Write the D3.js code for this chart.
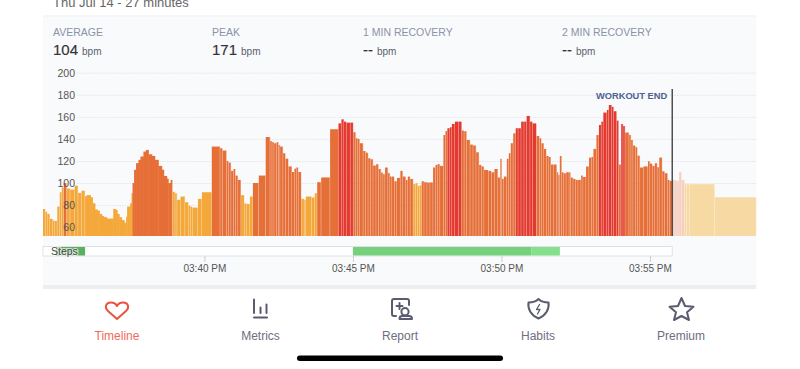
<!DOCTYPE html>
<html>
<head>
<meta charset="utf-8">
<script src="https://cdn.jsdelivr.net/npm/d3@7"></script>
<style>
  html, body { margin: 0; padding: 0; background: #fff; overflow: hidden; }
  text { font-family: "Liberation Sans", Arial, sans-serif; }
</style>
</head>
<body>
<div id="chart"></div>
<script>
// seconds after the first sample (15:34:34)
const barSeconds = [0,5,9,14,20,24,29,34,38,42,48,55,64,71,78,85,88,93,96,100,105,110,114,119,123,129,139,142,147,150,154,159,164,168,170,176,179,181,184,188,193,197,203,208,213,220,226,233,240,244,250,253,258,262,267,271,278,287,294,298,302,313,321,341,358,363,371,375,380,385,389,394,400,407,411,418,424,436,450,459,463,467,472,476,479,485,490,496,503,508,512,516,522,528,531,543,549,554,562,580,597,603,608,613,621,627,632,636,640,647,652,657,662,667,673,678,683,687,691,697,701,705,710,715,722,727,733,737,742,748,753,757,761,765,770,776,782,788,793,797,802,809,813,817,822,826,832,840,846,851,856,863,869,875,881,886,891,900,906,912,919,924,927,931,937,941,945,950,955,960,966,972,977,984,989,997,1003,1007,1012,1017,1022,1026,1032,1038,1041,1044,1048,1052,1057,1063,1066,1071,1076,1081,1087,1091,1097,1103,1108,1112,1118,1123,1128,1132,1139,1143,1149,1153,1159,1163,1168,1172,1176,1184,1188,1192,1197,1201,1206,1213,1222,1226,1231,1236,1241,1245,1251,1256,1262,1266,1271,1277,1281,1285,1290,1296,1300,1306,1357];
const barBpm = [76.5,74,72,67.5,66,65.6,78.6,91.6,96,100,95,94,97.6,91,93,88,89,89,87,81.6,76,75,72,70,69,67.7,67.7,76.5,75.6,72,69,66.5,64,69.5,78.6,81.6,90.7,100,112,118,121,124,128.5,130,126,124.5,121,115.5,112,106.4,104,100,102.8,92,90.7,84.7,87.7,82.5,79.5,78.6,77.7,85.6,91.6,133,131.5,129.4,120,118.5,111,112.7,106.7,102.8,89,81.6,81,87.7,100,106.7,141.7,138,137,136,137,134.5,133,127,122,115,110,113,114,110,85.6,84.7,87.7,86.8,90.7,100.7,105,148.7,154,157.7,155.6,154.7,154.7,146,140.5,140,136,129,127.5,122.4,121.5,115.8,117,112.7,109.4,108,114,109,105.8,105.8,101.6,104.6,111,105.8,102.8,105.8,103.7,99,99.8,97.3,98,101.6,100.7,100.4,100.5,114,116.4,117,115.5,143.5,147,149.6,150.5,153.5,155.6,155.6,147.5,146.9,139,134.8,134,127.8,116.4,115,111.8,111,109.7,112.7,104.9,122,103.7,105.8,122,127,136,145,149.6,149.6,155.6,155.6,160.8,155.6,154,142.6,140.5,136,130.9,124.5,123.6,116.7,116.7,109.7,107.3,124.5,109.7,108.8,109.7,109.7,104.9,103.7,102.8,102.8,106.7,105.5,114.9,123,123.6,130.9,143.5,152.6,155.6,163.8,166.2,170.7,169,165,156.5,116.7,153.5,151.7,145.7,143.5,139,133.9,132.4,124.8,114,115,119.7,117.6,115.5,117.9,114.3,123,110.6,108.8,102.8,101.9,102.8,102.3,101.9,109.7,102.8,98.9,98.9,98.9,87];
const endSecond = 1441;
const workoutEndSecond = 1271;
const solidSpan = [85, 255];

const yTicks = [200, 180, 160, 140, 120, 100, 80, 60];
const timeTicks = ["15:40", "15:45", "15:50", "15:55"];

const stepStart = [26, 626, 986];
const stepEnd = [85, 986, 1044];
const stepColors = ["#5bb060", "#76d07c", "#84e08c"];

const stats = [
  { label: "AVERAGE", value: "104", at: 53 },
  { label: "PEAK", value: "171", at: 212 },
  { label: "1 MIN RECOVERY", value: "--", at: 363 },
  { label: "2 MIN RECOVERY", value: "--", at: 562 }
];
const tabs = ["Timeline", "Metrics", "Report", "Habits", "Premium"];
const tabX = [117, 260.5, 400, 538, 681];

const width = 800;
const height = 369;
const panel = { left: 43, right: 756.4, top: 16, bottom: 285 };

const parseClock = d3.timeParse("%H:%M:%S");
const t0 = parseClock("15:34:34");
const toDate = s => d3.timeSecond.offset(t0, s);

const x = d3.scaleTime()
  .domain([t0, toDate(endSecond)])
  .range([panel.left, panel.right]);

const y = d3.scaleLinear()
  .domain([52, 200])
  .range([236, 72.7]);

const svg = d3.select("#chart").append("svg")
  .attr("width", width)
  .attr("height", height)
  .style("display", "block");

svg.append("text")
  .attr("x", 53).attr("y", 7)
  .style("font-size", "13px").style("fill", "#666")
  .text("Thu Jul 14 - 27 minutes");

svg.append("rect")
  .attr("x", panel.left).attr("y", panel.top)
  .attr("width", panel.right - panel.left).attr("height", panel.bottom - panel.top)
  .attr("fill", "#f9fafc");
svg.append("line")
  .attr("x1", panel.left).attr("x2", panel.right)
  .attr("y1", panel.top).attr("y2", panel.top)
  .attr("stroke", "#eeeff2");
svg.append("rect")
  .attr("x", panel.left).attr("y", panel.bottom)
  .attr("width", panel.right - panel.left).attr("height", 4)
  .attr("fill", "#eceef1");

// stats row
const statG = svg.selectAll(".stat").data(stats).enter().append("g").attr("class", "stat");
statG.append("text")
  .attr("x", d => d.at).attr("y", 36)
  .style("font-size", "10.5px").style("fill", "#8a93a8")
  .text(d => d.label);
const statValue = statG.append("text")
  .attr("x", d => d.at).attr("y", 55);
statValue.append("tspan")
  .style("font-size", "15px").style("fill", "#333")
  .style("stroke", "#333").style("stroke-width", "0.15px")
  .text(d => d.value);
statValue.append("tspan")
  .attr("dx", 4)
  .style("font-size", "10px").style("fill", "#5a5f6a")
  .text("bpm");

// grid sits under the bars
const grid = svg.append("g")
  .attr("transform", "translate(77,0)")
  .call(d3.axisLeft(y).tickValues(yTicks).tickSize(-(panel.right - 77)).tickFormat(""));
grid.select(".domain").remove();
grid.selectAll(".tick line")
  .attr("stroke", "#e4e6ea")
  .attr("stroke-dasharray", "1.5,1");

const zoneColor = v => v < 100 ? "#f5a83a" : v < 149 ? "#e66f37" : "#e4392f";
const fadedColor = v => v < 100 ? "#f7d9a4" : "#f6cfc0";

const bars = barSeconds.map((s, i) => ({
  s: s,
  next: i + 1 < barSeconds.length ? barSeconds[i + 1] : endSecond,
  bpm: barBpm[i]
}));
const barFill = d => d.s >= workoutEndSecond ? fadedColor(d.bpm) : zoneColor(d.bpm);

// pale full-width layer so the gaps between bars pick up the zone tint
svg.append("g").attr("opacity", 0.35).selectAll("rect")
  .data(bars)
  .enter()
  .append("rect")
  .attr("x", d => x(toDate(d.s)))
  .attr("y", d => y(d.bpm))
  .attr("width", d => x(toDate(d.next)) - x(toDate(d.s)))
  .attr("height", d => y.range()[0] - y(d.bpm))
  .attr("fill", barFill);

svg.append("g").selectAll("rect")
  .data(bars)
  .enter()
  .append("rect")
  .attr("x", d => x(toDate(d.s)))
  .attr("y", d => y(d.bpm))
  .attr("width", d => {
    const w = x(toDate(d.next)) - x(toDate(d.s));
    const solid = d.s >= solidSpan[0] && d.s < solidSpan[1];
    return solid ? w + 0.4 : Math.max(w - 0.5, 0.5);
  })
  .attr("height", d => y.range()[0] - y(d.bpm))
  .attr("fill", barFill);

// tick labels sit on top of the bars
const yAxis = svg.append("g")
  .attr("transform", "translate(77,0)")
  .call(d3.axisLeft(y).tickValues(yTicks).tickSize(0).tickPadding(2));
yAxis.select(".domain").remove();
yAxis.selectAll(".tick text")
  .style("font-size", "10.5px")
  .style("font-family", "'Liberation Sans', Arial, sans-serif")
  .style("fill", "#555");

// workout end marker
svg.append("line")
  .attr("x1", x(toDate(workoutEndSecond))).attr("x2", x(toDate(workoutEndSecond)))
  .attr("y1", 89).attr("y2", 236)
  .attr("stroke", "#444").attr("stroke-width", 1.4);
svg.append("text")
  .attr("x", x(toDate(workoutEndSecond)) - 5).attr("y", 99)
  .attr("text-anchor", "end")
  .style("font-size", "9.3px").style("font-weight", "bold").style("fill", "#4f6190")
  .text("WORKOUT END");

// steps strip
svg.append("rect")
  .attr("x", x(t0)).attr("y", 246.5)
  .attr("width", x(toDate(workoutEndSecond)) - x(t0)).attr("height", 9.5)
  .attr("fill", "#fff").attr("stroke", "#dfe1e4");
svg.append("g").selectAll("rect")
  .data(stepStart)
  .enter()
  .append("rect")
  .attr("x", d => x(toDate(d)))
  .attr("y", 247)
  .attr("width", (d, i) => x(toDate(stepEnd[i])) - x(toDate(d)))
  .attr("height", 8.5)
  .attr("fill", (d, i) => stepColors[i]);
svg.append("text")
  .attr("x", 51).attr("y", 255)
  .style("font-size", "10.5px").style("fill", "#444")
  .style("paint-order", "stroke").style("stroke", "rgba(255,255,255,0.7)").style("stroke-width", "2px")
  .text("Steps");

// time axis
const xAxis = svg.append("g")
  .attr("transform", "translate(0,256.5)")
  .call(d3.axisBottom(x)
    .tickValues(timeTicks.map(t => parseClock(t + ":00")))
    .tickFormat(d3.timeFormat("%I:%M %p"))
    .tickSize(6)
    .tickPadding(2));
xAxis.select(".domain").remove();
xAxis.selectAll(".tick line").attr("stroke", "#bbb").attr("stroke-dasharray", "2,1");
xAxis.selectAll(".tick text")
  .style("font-size", "10px")
  .style("font-family", "'Liberation Sans', Arial, sans-serif")
  .style("fill", "#555");

// tab bar
svg.selectAll(".tab").data(tabs).enter().append("text")
  .attr("class", "tab")
  .attr("x", (d, i) => tabX[i]).attr("y", 340)
  .attr("text-anchor", "middle")
  .style("font-size", "12px")
  .style("fill", (d, i) => i === 0 ? "#ef6c5c" : "#6e6e80")
  .text(d => d);

const iconStroke = "#5b5b70";
const icons = svg.append("g").attr("fill", "none").attr("stroke", iconStroke)
  .attr("stroke-width", 2).attr("stroke-linecap", "round").attr("stroke-linejoin", "round");

icons.append("path")
  .attr("stroke", "#e8543f")
  .attr("d", "M117 319 L108 311 C104 307 106 302.5 111 302.5 C113.6 302.5 116 304 117 306 C118 304 120.4 302.5 123 302.5 C128 302.5 130 307 126 311 Z");

icons.append("path")
  .attr("d", "M254 299.5 V313 M260.5 307.5 V313 M266.5 304.5 V313 M254 317.5 H267");

icons.append("path")
  .attr("d", "M396 316 H394 Q392 316 392 314 V301 Q392 299 394 299 H407 Q409 299 409 301 V305 M396.5 306 H402.5 M399.5 303 V309");
icons.append("circle").attr("cx", 405).attr("cy", 311.7).attr("r", 3.6);
icons.append("path").attr("d", "M399.5 319 Q399.5 316 402 316 H409 Q412 316 412 319 Z");

icons.append("path")
  .attr("d", "M538.5 299 C541 301.5 545 302.5 548.5 302.5 C549.5 309 546 315.5 538.5 318.5 C531 315.5 527.5 309 528.5 302.5 C532 302.5 536 301.5 538.5 299 Z");
icons.append("path")
  .attr("stroke-width", 1.3)
  .attr("d", "M539.5 304.5 L536.5 309.5 H540 L537.5 314");

icons.append("path")
  .attr("d", "M681.5 298 L685 306 L693.5 306.8 L687 312.3 L689 320 L681.5 316 L674 320 L676 312.3 L669.5 306.8 L678 306 Z");

// home indicator
svg.append("rect")
  .attr("x", 297).attr("y", 355.5)
  .attr("width", 206).attr("height", 5.5)
  .attr("rx", 2.75)
  .attr("fill", "#000");
</script>
</body>
</html>
